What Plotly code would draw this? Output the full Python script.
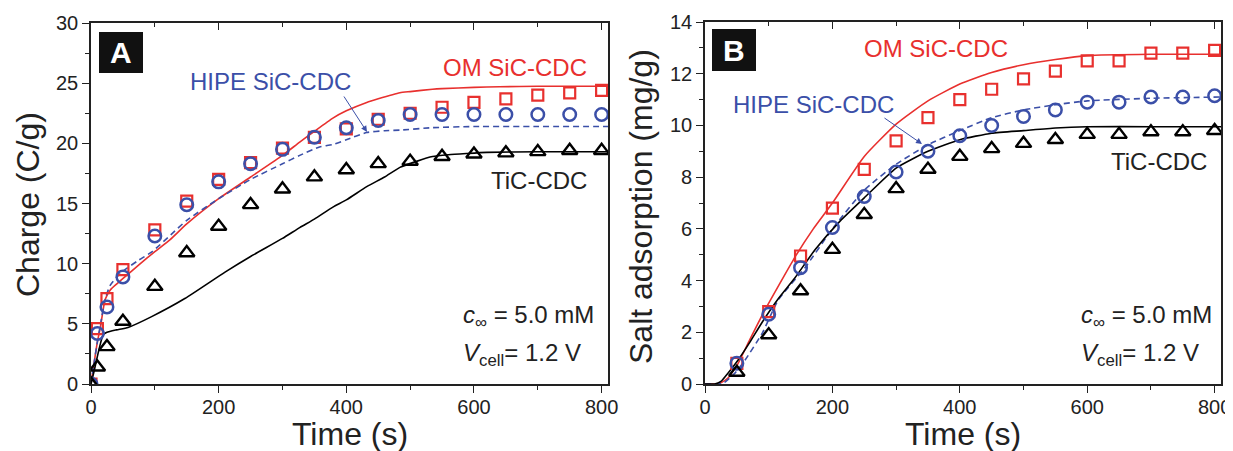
import plotly.graph_objects as go

# The page body adds an 8px margin; the figure is sized to fill the rest of the 1233x451 window.
OX, OY = 8, 8
W, H = 1233 - OX, 451 - OY

# ---------------- Panel A data: Charge (C/g) ----------------
tA_pts = [0, 10, 25, 50, 100, 150, 200, 250, 300, 350, 400, 450, 500, 550, 600, 650, 700, 750, 800]
A_om_pts = [0, 4.6, 7.1, 9.5, 12.8, 15.2, 17.0, 18.4, 19.6, 20.5, 21.2, 22.0, 22.5, 23.0, 23.4, 23.7, 24.0, 24.2, 24.4]
A_hipe_pts = [0, 4.2, 6.4, 8.9, 12.3, 14.9, 16.8, 18.3, 19.5, 20.5, 21.3, 21.9, 22.4, 22.4, 22.4, 22.4, 22.4, 22.4, 22.4]
A_tic_pts = [0, 1.4, 3.1, 5.2, 8.1, 10.9, 13.1, 14.9, 16.2, 17.2, 17.8, 18.3, 18.5, 18.9, 19.1, 19.2, 19.3, 19.4, 19.4]

A_om_fit_t = [0, 5, 10, 15, 22, 30, 40, 53, 75, 100, 124, 150, 200, 250, 300, 327, 350, 379, 400, 432, 450, 484, 500, 535, 550, 600, 640, 700, 810]
A_om_fit_v = [0, 1.8, 3.5, 4.8, 7.0, 7.8, 8.3, 8.9, 9.9, 11.0, 12.0, 13.3, 15.4, 17.2, 19.0, 20.1, 21.0, 22.1, 22.7, 23.4, 23.7, 24.2, 24.3, 24.5, 24.55, 24.65, 24.7, 24.75, 24.75]
A_hipe_fit_t = [0, 5, 10, 15, 22, 30, 48, 75, 96, 125, 150, 200, 250, 300, 327, 358, 379, 400, 432, 460, 484, 535, 600, 700, 810]
A_hipe_fit_v = [0, 1.8, 3.5, 5.0, 7.0, 8.2, 9.3, 10.3, 11.0, 12.4, 13.6, 15.4, 17.0, 18.3, 19.0, 19.7, 19.9, 20.3, 20.9, 21.05, 21.1, 21.3, 21.4, 21.4, 21.4]
A_tic_fit_t = [0, 5, 10, 15, 19, 25, 40, 58, 95, 147, 210, 250, 300, 327, 350, 379, 400, 432, 460, 484, 510, 535, 560, 588, 620, 700, 810]
A_tic_fit_v = [0, 1.1, 2.3, 3.4, 4.1, 4.3, 4.5, 4.7, 5.6, 7.1, 9.3, 10.6, 12.1, 13.0, 13.7, 14.7, 15.3, 16.4, 17.2, 18.0, 18.5, 18.9, 19.05, 19.15, 19.25, 19.3, 19.3]

# ---------------- Panel B data: Salt adsorption (mg/g) ----------------
tB_pts = [50, 100, 150, 200, 250, 300, 350, 400, 450, 500, 550, 600, 650, 700, 750, 800]
B_om_pts = [0.8, 2.8, 4.95, 6.8, 8.3, 9.4, 10.3, 11.0, 11.4, 11.8, 12.1, 12.5, 12.5, 12.8, 12.8, 12.9]
B_hipe_pts = [0.8, 2.7, 4.5, 6.05, 7.25, 8.2, 9.0, 9.6, 10.0, 10.35, 10.6, 10.9, 10.9, 11.1, 11.1, 11.15]
B_tic_pts = [0.45, 1.9, 3.6, 5.2, 6.55, 7.55, 8.3, 8.8, 9.1, 9.3, 9.45, 9.65, 9.65, 9.75, 9.75, 9.8]

B_om_fit_t = [0, 15, 25, 36, 52, 70, 94, 120, 141, 170, 200, 250, 300, 350, 400, 450, 500, 550, 600, 700, 810]
B_om_fit_v = [0, 0, 0.05, 0.23, 0.8, 1.7, 2.86, 4.0, 4.9, 6.0, 7.0, 8.8, 10.05, 10.95, 11.6, 12.05, 12.35, 12.55, 12.7, 12.75, 12.75]
B_hipe_fit_t = [0, 20, 30, 47, 63, 90, 115, 157, 200, 250, 300, 350, 400, 450, 500, 550, 600, 700, 810]
B_hipe_fit_v = [0, 0, 0.05, 0.42, 0.93, 1.97, 3.25, 4.5, 6.0, 7.5, 8.5, 9.25, 9.8, 10.3, 10.6, 10.8, 10.95, 11.05, 11.1]
B_tic_fit_t = [0, 15, 25, 36, 52, 70, 90, 115, 141, 173, 212, 250, 300, 350, 400, 450, 500, 550, 600, 700, 810]
B_tic_fit_v = [0, 0, 0.1, 0.42, 0.93, 1.6, 2.4, 3.3, 4.1, 5.2, 6.3, 7.2, 8.35, 9.0, 9.45, 9.7, 9.8, 9.9, 9.95, 9.95, 9.95]

RED = "#e8302e"
BLUE = "#3b4fa8"
BLACK = "#000000"
FONT = "Liberation Sans, Arial, sans-serif"

fig = go.Figure()


def add_panel(xa, ya, t_pts, om, hipe, tic, om_t, om_v, hp_t, hp_v, tc_t, tc_v):
    fig.add_trace(go.Scatter(x=om_t, y=om_v, mode="lines", line=dict(color=RED, width=1.6, shape="spline", smoothing=0.5),
                             xaxis=xa, yaxis=ya, showlegend=False, hoverinfo="skip"))
    fig.add_trace(go.Scatter(x=hp_t, y=hp_v, mode="lines",
                             line=dict(color=BLUE, width=1.6, dash="6px,4px", shape="spline", smoothing=0.5),
                             xaxis=xa, yaxis=ya, showlegend=False, hoverinfo="skip"))
    fig.add_trace(go.Scatter(x=tc_t, y=tc_v, mode="lines", line=dict(color=BLACK, width=1.6, shape="spline", smoothing=0.5),
                             xaxis=xa, yaxis=ya, showlegend=False, hoverinfo="skip"))
    fig.add_trace(go.Scatter(x=t_pts, y=om, mode="markers",
                             marker=dict(symbol="square-open", size=11, color=RED, line=dict(width=2.2, color=RED)),
                             xaxis=xa, yaxis=ya, showlegend=False))
    fig.add_trace(go.Scatter(x=t_pts, y=hipe, mode="markers",
                             marker=dict(symbol="circle-open", size=12.5, color=BLUE, line=dict(width=2.5, color=BLUE)),
                             xaxis=xa, yaxis=ya, showlegend=False))
    fig.add_trace(go.Scatter(x=t_pts, y=tic, mode="markers",
                             marker=dict(symbol="triangle-up-open", size=13.5, color=BLACK, line=dict(width=2.4, color=BLACK)),
                             xaxis=xa, yaxis=ya, showlegend=False))


add_panel("x", "y", tA_pts, A_om_pts, A_hipe_pts, A_tic_pts,
          A_om_fit_t, A_om_fit_v, A_hipe_fit_t, A_hipe_fit_v, A_tic_fit_t, A_tic_fit_v)
add_panel("x2", "y2", tB_pts, B_om_pts, B_hipe_pts, B_tic_pts,
          B_om_fit_t, B_om_fit_v, B_hipe_fit_t, B_hipe_fit_v, B_tic_fit_t, B_tic_fit_v)

# invisible traces for top (inside-tick) axes
fig.add_trace(go.Scatter(x=[0], y=[0], mode="markers", marker=dict(opacity=0), xaxis="x3", yaxis="y",
                         showlegend=False, hoverinfo="skip"))
fig.add_trace(go.Scatter(x=[0], y=[0], mode="markers", marker=dict(opacity=0), xaxis="x4", yaxis="y2",
                         showlegend=False, hoverinfo="skip"))


def px(x):
    return (x - OX) / W


def py(y):
    return 1 - (y - OY) / H


XR = [0, 810]
tickfont = dict(family=FONT, size=20, color="#222222")

common_x = dict(range=XR, showgrid=False, zeroline=False, showline=True, linecolor="#222222", linewidth=1.6,
                mirror=True, ticks="outside", ticklen=7, tickwidth=1.4, tickcolor="#222222",
                tick0=0, dtick=200, tickfont=tickfont, automargin=False, ticklabelstandoff=-3,
                minor=dict(dtick=100, ticks="outside", ticklen=4, tickwidth=1.3, tickcolor="#222222"))
common_y = dict(showgrid=False, zeroline=False, showline=True, linecolor="#222222", linewidth=1.6,
                mirror=True, ticks="outside", ticklen=7, tickwidth=1.4, tickcolor="#222222", tickfont=tickfont,
                automargin=False)

xA = [px(91), px(608)]
xB = [px(705), px(1221)]
yA = [py(384), py(23)]
yB = [py(384), py(22)]

top_common = dict(range=XR, showgrid=False, zeroline=False, showline=False, side="top",
                  ticks="inside", ticklen=7, tickwidth=1.4, tickcolor="#222222", showticklabels=False,
                  tick0=0, dtick=200, automargin=False,
                  minor=dict(dtick=100, ticks="inside", ticklen=4, tickwidth=1.3, tickcolor="#222222"))

fig.update_layout(
    width=W, height=H,
    margin=dict(l=0, r=0, t=0, b=0, pad=0, autoexpand=False),
    paper_bgcolor="white", plot_bgcolor="white",
    font=dict(family=FONT, color="#222222"),
    xaxis=dict(domain=xA, anchor="y", **common_x),
    yaxis=dict(domain=yA, anchor="x", range=[0, 30], dtick=5, tick0=0,
               minor=dict(dtick=2.5, ticks="outside", ticklen=4, tickwidth=1.3, tickcolor="#222222"), **common_y),
    xaxis2=dict(domain=xB, anchor="y2", **common_x),
    yaxis2=dict(domain=yB, anchor="x2", range=[0, 14], dtick=2, tick0=0,
                minor=dict(dtick=1, ticks="outside", ticklen=4, tickwidth=1.3, tickcolor="#222222"), **common_y),
    xaxis3=dict(overlaying="x", anchor="y", **top_common),
    xaxis4=dict(overlaying="x2", anchor="y2", **top_common),
)

ann = []


def text(x, y, s, color, xanchor="left", size=24, yanchor="middle"):
    ann.append(dict(x=px(x), y=py(y), xref="paper", yref="paper", text=s, showarrow=False,
                    xanchor=xanchor, yanchor=yanchor, font=dict(family=FONT, size=size, color=color)))


# axis titles
text(350, 434, "Time (s)", "#222222", xanchor="center", size=32)
text(963, 434, "Time (s)", "#222222", xanchor="center", size=32)
ann.append(dict(x=px(28), y=py(205), xref="paper", yref="paper", text="Charge (C/g)", showarrow=False,
                textangle=-90, xanchor="center", yanchor="middle", font=dict(family=FONT, size=32, color="#222222")))
ann.append(dict(x=px(641), y=py(207), xref="paper", yref="paper", text="Salt adsorption (mg/g)", showarrow=False,
                textangle=-90, xanchor="center", yanchor="middle", font=dict(family=FONT, size=32, color="#222222")))

# panel A labels
text(589, 67, "OM SiC-CDC", RED, xanchor="right")
text(188, 82, "HIPE SiC-CDC", BLUE)
text(589, 180, "TiC-CDC", "#222222", xanchor="right")
text(461, 334, "<i>c</i><sub>∞</sub> = 5.0 mM", "#222222", yanchor="bottom")
text(461, 372, "<i>V</i><sub>cell</sub>= 1.2 V", "#222222", yanchor="bottom")
# panel B labels
text(862, 49, "OM SiC-CDC", RED)
text(731, 104, "HIPE SiC-CDC", BLUE)
text(1209, 162, "TiC-CDC", "#222222", xanchor="right")
text(1079, 334, "<i>c</i><sub>∞</sub> = 5.0 mM", "#222222", yanchor="bottom")
text(1079, 372, "<i>V</i><sub>cell</sub>= 1.2 V", "#222222", yanchor="bottom")

# arrows (tail -> head, in pixels)
for (x0, y0, x1, y1) in [(343, 95, 367, 132), (883, 117, 922, 144)]:
    ann.append(dict(x=px(x1), y=py(y1), xref="paper", yref="paper",
                    ax=x0 - x1, ay=y0 - y1, axref="pixel", ayref="pixel",
                    text="", showarrow=True, arrowhead=2, arrowsize=1.2,
                    arrowwidth=1, arrowcolor=BLUE))

# panel letters
shapes = []
for (x0, y0, x1, y1, letter) in [(99, 32, 143, 73, "A"), (712, 29, 756, 71, "B")]:
    shapes.append(dict(type="rect", xref="paper", yref="paper", x0=px(x0), x1=px(x1), y0=py(y1), y1=py(y0),
                       fillcolor="#111111", line=dict(width=0)))
    ann.append(dict(x=px((x0 + x1) / 2), y=py((y0 + y1) / 2), xref="paper", yref="paper", text="<b>%s</b>" % letter,
                    showarrow=False, xanchor="center", yanchor="middle",
                    font=dict(family=FONT, size=30, color="white")))

fig.update_layout(annotations=ann, shapes=shapes)
fig.write_html("out.html")
